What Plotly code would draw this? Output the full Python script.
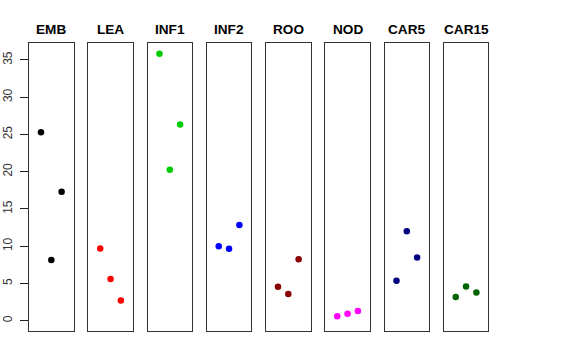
import plotly.graph_objects as go

W, H = 576, 360
tissues = ["EMB", "LEA", "INF1", "INF2", "ROO", "NOD", "CAR5", "CAR15"]
colors = ["#000000", "#FF0000", "#00CD00", "#0000FF", "#8B0000", "#FF00FF", "#000080", "#006400"]
x_pos = [1, 2, 3]
values_EMB = [25.3, 8.15, 17.3]
values_LEA = [9.7, 5.6, 2.7]
values_INF1 = [35.85, 20.25, 26.35]
values_INF2 = [10.0, 9.65, 12.85]
values_ROO = [4.55, 3.6, 8.25]
values_NOD = [0.6, 0.95, 1.3]
values_CAR5 = [5.35, 12.0, 8.5]
values_CAR15 = [3.2, 4.6, 3.8]
all_values = [values_EMB, values_LEA, values_INF1, values_INF2,
              values_ROO, values_NOD, values_CAR5, values_CAR15]
y_ticks = [0, 5, 10, 15, 20, 25, 30, 35]

fig = go.Figure()

panel_left0 = 29.0
panel_w = 44.6
panel_step = 59.25
top_px, bot_px = 43.3, 331.0
y_dom = [1 - bot_px / H, 1 - top_px / H]

layout = dict(
    width=W, height=H,
    margin=dict(l=0, r=0, t=0, b=0, autoexpand=False),
    paper_bgcolor="white", plot_bgcolor="white",
    showlegend=False,
    font=dict(family="Liberation Sans, Arial, sans-serif", color="#000000"),
)
annotations = []
for i, (name, col, vals) in enumerate(zip(tissues, colors, all_values)):
    idx = "" if i == 0 else str(i + 1)
    x0 = panel_left0 + i * panel_step
    x1 = x0 + panel_w
    fig.add_trace(go.Scatter(
        x=x_pos, y=vals, mode="markers",
        marker=dict(color=col, size=6.5, line=dict(width=0)),
        xaxis="x" + idx, yaxis="y" + idx, hoverinfo="y",
    ))
    layout["xaxis" + idx] = dict(
        domain=[x0 / W, x1 / W], range=[-0.16, 4.16],
        showgrid=False, zeroline=False, showticklabels=False, ticks="",
        showline=True, mirror=True, linecolor="#333333", linewidth=1,
        anchor="y" + idx, fixedrange=True,
    )
    ya = dict(
        domain=y_dom, range=[-1.38, 37.24],
        showgrid=False, zeroline=False,
        showline=True, mirror=True, linecolor="#333333", linewidth=1,
        anchor="x" + idx, fixedrange=True,
    )
    if i == 0:
        ya.update(tickvals=y_ticks, ticktext=[str(v) for v in y_ticks],
                  ticks="outside", ticklen=8, tickcolor="#222222", tickwidth=1,
                  ticklabelstandoff=3,
                  tickangle=-90, tickfont=dict(size=12, color="#333333"))
    else:
        ya.update(showticklabels=False, ticks="")
    layout["yaxis" + idx] = ya
    annotations.append(dict(
        text="<b>" + name + "</b>", x=(x0 + x1) / 2 / W, y=1 - 29.0 / H,
        xref="paper", yref="paper", xanchor="center", yanchor="middle",
        showarrow=False, font=dict(size=13.6, color="#000000"),
    ))
layout["annotations"] = annotations
fig.update_layout(**layout)
fig.write_html("out.html", config={"displayModeBar": False},
               post_script="document.body.style.margin='0px';")
